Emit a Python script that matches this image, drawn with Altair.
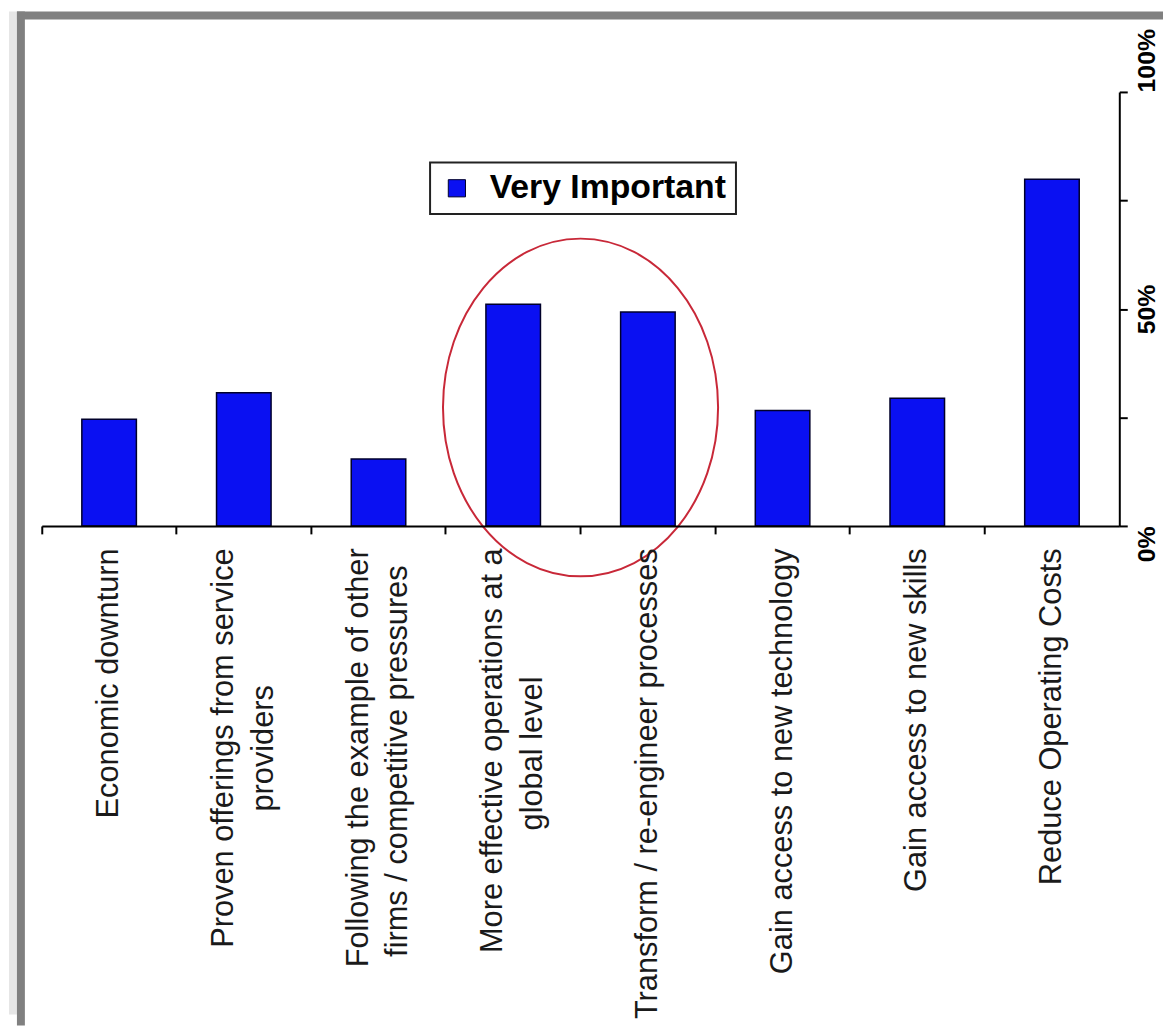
import altair as alt
import pandas as pd

# ---- data ----
categories = [
    "Economic downturn",
    "Proven offerings from service|providers",
    "Following the example of other|firms / competitive pressures",
    "More effective operations at a|global level",
    "Transform / re-engineer processes",
    "Gain access to new technology",
    "Gain access to new skills",
    "Reduce Operating Costs",
]
very_important = [24.6, 30.7, 15.4, 51.1, 49.3, 26.6, 29.4, 79.9]
series_name = "Very Important"
second_line_pad = [0, 16, 2, 15, 0, 0, 0, 0]   # non-breaking spaces to centre the 2nd line
y_ticks = [0, 25, 50, 75, 100]
y_labelled = [0, 50, 100]
highlight_index = 3          # ellipse sits on the boundary after this category
highlight_center = 27.3      # vertical centre of the ellipse (%)

NBSP = "\u00a0"
ZWSP = "\u200b"   # keeps the padding from being trimmed
display = []
for c, p in zip(categories, second_line_pad):
    parts = c.split("|")
    if len(parts) > 1 and p > 0:
        parts[1] = parts[1] + NBSP * p + ZWSP
    display.append("|".join(parts))

bars_df = pd.DataFrame({"cat": display, "value": very_important,
                        "series": [series_name] * len(display)})
ell_df = pd.DataFrame({"cat": [display[highlight_index]], "value": [highlight_center]})

W, H = 1085, 437
FONT = "Liberation Sans"
BLUE = "#0a10f2"
LINE_H = 40

x_axis = alt.Axis(
    title=None, orient="bottom", bandPosition=0,
    labelAngle=270, labelAlign="right", labelBaseline="middle",
    labelFont=FONT, labelFontSize=31, labelColor="#1a1a1a", labelLimit=1000,
    labelLineHeight=LINE_H, labelPadding=14, labelOverlap=False,
    labelExpr="split(datum.label, '|')",
    labelOffset={"condition": {"test": "indexof(datum.value, '|') >= 0",
                               "value": -LINE_H / 2},
                 "value": 0},
    tickSize=8, tickWidth=2, tickColor="black",
    domainColor="black", domainWidth=2, grid=False, zindex=1,
)
lab_test = " || ".join(f"datum.value == {v}" for v in y_labelled)
y_axis = alt.Axis(
    title=None, orient="right", values=y_ticks,
    labelExpr=f"({lab_test}) ? datum.value + '%' : ''",
    labelAngle=270, labelBaseline="top",
    labelAlign={"condition": [{"test": "datum.value == 0", "value": "right"},
                              {"test": "datum.value == 100", "value": "left"}],
                "value": "center"},
    labelFont=FONT, labelFontSize=25, labelFontWeight="bold", labelColor="black",
    labelPadding=7, labelOverlap=False, labelFlush=False,
    tickSize=8, tickWidth=2, tickColor="black",
    domainColor="black", domainWidth=2, grid=False, zindex=1,
)

xscale = alt.Scale(paddingInner=0, paddingOuter=0)
yscale = alt.Scale(domain=[0, 100], nice=False, zero=True)

bars = alt.Chart(bars_df).mark_bar(
    width=alt.RelativeBandSize(0.405), stroke="#00002a", strokeWidth=1.5
).encode(
    x=alt.X("cat:N", sort=display, scale=xscale, axis=x_axis),
    y=alt.Y("value:Q", scale=yscale, axis=y_axis),
    color=alt.Color(
        "series:N", scale=alt.Scale(range=[BLUE]),
        legend=alt.Legend(
            title=None, orient="none", legendX=391, legendY=71,
            labelFont=FONT, labelFontSize=34, labelFontWeight="bold",
            labelColor="black", labelLimit=500, labelOffset=16,
            symbolType="square", symbolSize=300, symbolStrokeColor="#00002a",
            symbolStrokeWidth=1, symbolFillColor=BLUE, symbolOffset=1,
            padding=9, strokeColor="#222222", fillColor="white",
        ),
    ),
)

RX = 138.5 / 170
K = 0.5523
ELLIPSE = (
    f"M {RX},0 C {RX},{K} {RX*K},1 0,1 C {-RX*K},1 {-RX},{K} {-RX},0 "
    f"C {-RX},{-K} {-RX*K},-1 0,-1 C {RX*K},-1 {RX},{-K} {RX},0 Z"
)
ellipse = alt.Chart(ell_df).mark_point(
    shape=ELLIPSE, size=340 * 340, filled=False, color="#c82838",
    strokeWidth=2, opacity=1,
).encode(
    x=alt.X("cat:N", sort=display, bandPosition=1),
    y=alt.Y("value:Q"),
)

# page frame (decoration of the original slide photo)
one = alt.Data(values=[{}])
frame_light = alt.Chart(one).mark_rect(color="#e6e6e6").encode(
    x=alt.value(-33), x2=alt.value(-25), y=alt.value(-81), y2=alt.value(929))
frame_top = alt.Chart(one).mark_rect(color="#808080").encode(
    x=alt.value(-25), x2=alt.value(W + 50), y=alt.value(-81), y2=alt.value(-73))
frame_left = alt.Chart(one).mark_rect(color="#808080").encode(
    x=alt.value(-25), x2=alt.value(-17), y=alt.value(-81), y2=alt.value(940))

chart = alt.layer(bars, ellipse, frame_light, frame_top, frame_left).properties(
    width=W, height=H,
    autosize=alt.AutoSizeParams(type="none"),
    padding={"left": 34, "top": 81, "right": 44, "bottom": 500},
    background="white",
).configure_view(strokeWidth=0).configure_legend(strokeWidth=2)

chart.save("out.html", embed_options={"renderer": "svg", "actions": False})
